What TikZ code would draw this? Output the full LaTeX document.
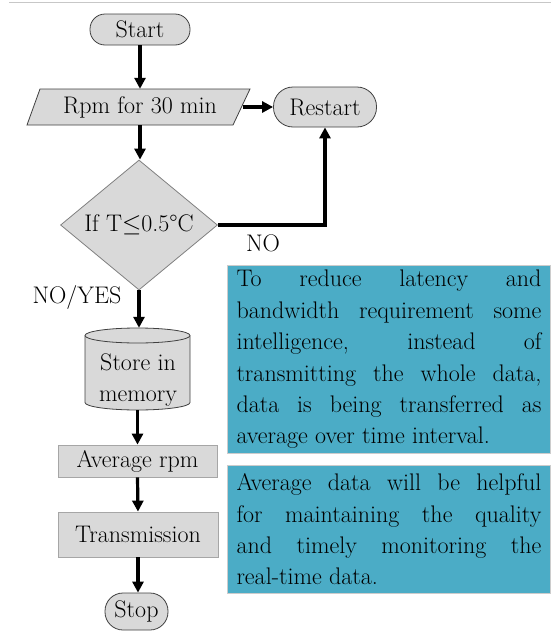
\documentclass[tikz,border=0pt]{standalone}
\usepackage{fontspec}
\setmainfont{Latin Modern Roman}
\usetikzlibrary{shapes.geometric,arrows.meta}

\definecolor{shapefill}{HTML}{D9D9D9}
\definecolor{notecol}{HTML}{4BACC6}

\begin{document}
\begin{tikzpicture}[x=1pt,y=-1pt,
  every node/.style={font=\fontsize{24}{31.4}\selectfont, inner sep=0pt},
  flow/.style={line width=3.2pt, -{Triangle[length=11pt,width=11pt]}},
  term/.style={rectangle, draw=black!75, line width=0.8pt, fill=shapefill},
  proc/.style={rectangle, draw=black!35, line width=0.8pt, fill=shapefill},
  outline/.style={draw=black!75, line width=0.8pt},
  note/.style={rectangle, draw=black!20, line width=1pt, fill=notecol,
    text width=305pt, align=justify, inner xsep=9pt, inner ysep=0pt,
    anchor=north west,
    execute at begin node={\tolerance=10000\hyphenpenalty=10000}},
]
\useasboundingbox (0,0) rectangle (551,632);

% thin rule along the top edge
\draw[black!22, line width=1.5pt] (9,2.5) -- (551,2.5);

% terminal and input blocks
\node[term, rounded corners=15pt, minimum width=100pt, minimum height=31pt] (start) at (140,29.5) {Start};

\draw[outline, fill=shapefill] (40,89) -- (250,89) -- (233,125) -- (27,125) -- cycle;
\node[minimum width=206pt, minimum height=36pt] (rpm) at (140,107) {Rpm for 30 min};

\node[term, rounded corners=19.5pt, minimum width=103pt, minimum height=40pt] (restart) at (325,107) {Restart};

% decision
\node[diamond, draw=black!50, fill=shapefill, line width=0.8pt, aspect=1.2,
      minimum width=157pt, minimum height=130pt] (test) at (139,225) {If T$\leq$0.5°C};

% storage cylinder
\draw[outline, fill=shapefill] (85,335.5) -- (85,402.5)
  arc[start angle=180, end angle=360, x radius=52.5pt, y radius=7.5pt]
  -- (190,335.5)
  arc[start angle=0, end angle=180, x radius=52.5pt, y radius=7.5pt] -- cycle;
\draw[outline] (85,335.5) arc[start angle=180, end angle=360, x radius=52.5pt, y radius=7.5pt];
\node[minimum width=105pt, minimum height=82pt] (mem) at (137.5,369) {};
\node[align=center] (memtext) at (138,380) {Store in\\memory};

% processing steps
\node[proc, minimum width=159pt, minimum height=32pt] (avg) at (137.5,461) {Average rpm};
\node[proc, minimum width=160pt, minimum height=45pt] (trans) at (138,534.5) {Transmission};
\node[term, rounded corners=18pt, minimum width=63pt, minimum height=37pt] (stop) at (136.5,611.5) {Stop};

% branch labels
\node (no) at (263,243) {NO};
\node (noyes) at (77,297) {NO/YES};

% connectors
\draw[flow] (start.south) -- (rpm.north);
\draw[flow] (rpm.east) -- (restart.west);
\draw[flow] (rpm.south) -- (rpm.south |- test.north);
\draw[flow] (test.east) -| (restart.south);
\draw[flow] (test.south) -- (test.south |- mem.north);
\draw[flow] (mem.south) -- (avg.north);
\draw[flow] (avg.south) -- (trans.north);
\draw[flow] (trans.south) -- (trans.south |- stop.north);

% explanatory notes
\node[note, minimum height=188pt] (note1) at (227,265) {To reduce latency and\linebreak
bandwidth requirement some\linebreak
intelligence, instead of\linebreak
transmitting the whole data,\linebreak
data is being transferred as\linebreak
average over time interval.};

\node[note, minimum height=128pt] (note2) at (227,465) {Average data will be helpful\linebreak
for maintaining the quality\linebreak
and timely monitoring the\linebreak
real-time data.};
\end{tikzpicture}
\end{document}
